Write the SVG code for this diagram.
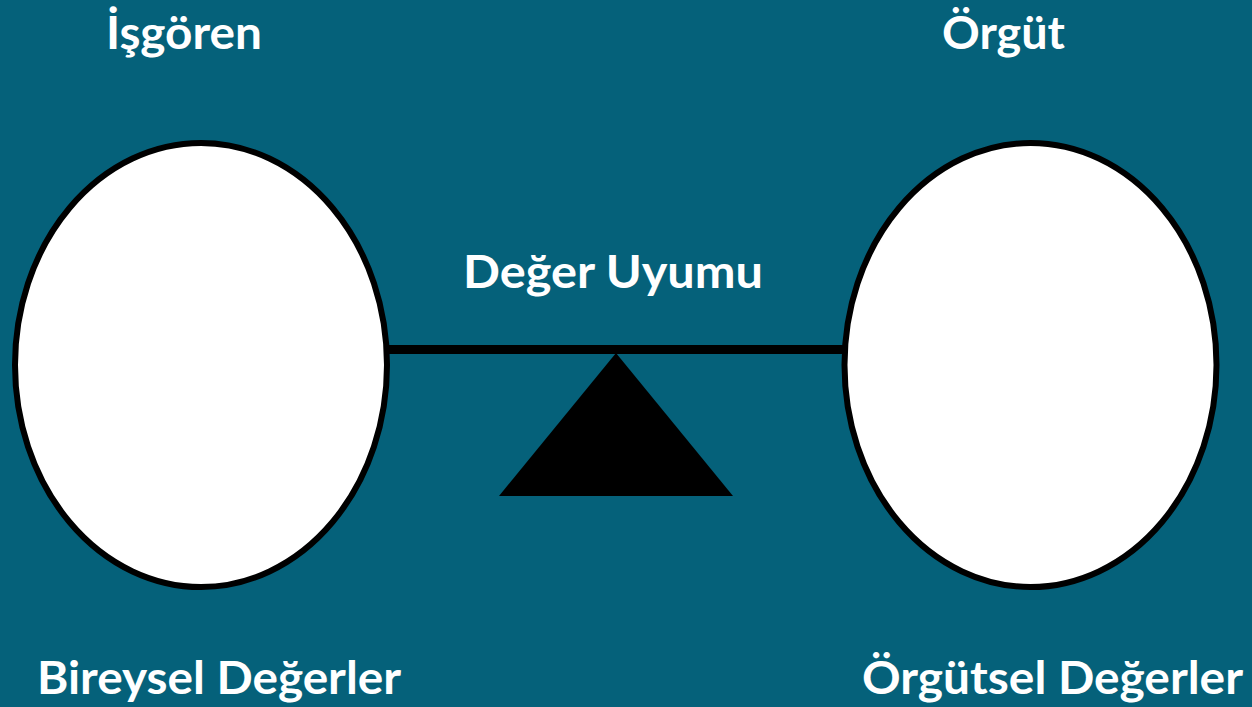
<svg xmlns="http://www.w3.org/2000/svg" width="1252" height="707" viewBox="0 0 1252 707">
  <style>
    .bg { fill: #05617A; }
    .pan { fill: #FFFFFF; stroke: #000000; stroke-width: 6; }
    .beam { stroke: #000000; stroke-width: 9; fill: none; }
    .pivot { fill: #000000; }
    .lbl { font-family: Lato, "Open Sans", "Liberation Sans", sans-serif; font-weight: 700; font-size: 46px; fill: #FFFFFF; }
  </style>
  <rect class="bg" x="0" y="0" width="1252" height="707"/>

  <!-- beam joining the two pans -->
  <g id="connectors">
    <line class="beam" x1="387" y1="349.5" x2="845" y2="349.5"/>
  </g>

  <!-- fulcrum -->
  <g id="fulcrum">
    <polygon class="pivot" points="616,353 733,496 499,496"/>
    <text class="lbl" x="463" y="288" textLength="300" lengthAdjust="spacingAndGlyphs">Değer Uyumu</text>
  </g>

  <!-- employee side -->
  <g id="isgoren">
    <text class="lbl" x="106" y="49" textLength="156" lengthAdjust="spacingAndGlyphs">İşgören</text>
    <ellipse class="pan" cx="201" cy="365" rx="186" ry="222"/>
    <text class="lbl" x="37" y="694" textLength="364" lengthAdjust="spacingAndGlyphs">Bireysel Değerler</text>
  </g>

  <!-- organisation side -->
  <g id="orgut">
    <text class="lbl" x="942" y="49" textLength="123" lengthAdjust="spacingAndGlyphs">Örgüt</text>
    <ellipse class="pan" cx="1030.5" cy="365" rx="186" ry="222"/>
    <text class="lbl" x="862" y="694" textLength="381" lengthAdjust="spacingAndGlyphs">Örgütsel Değerler</text>
  </g>
</svg>
